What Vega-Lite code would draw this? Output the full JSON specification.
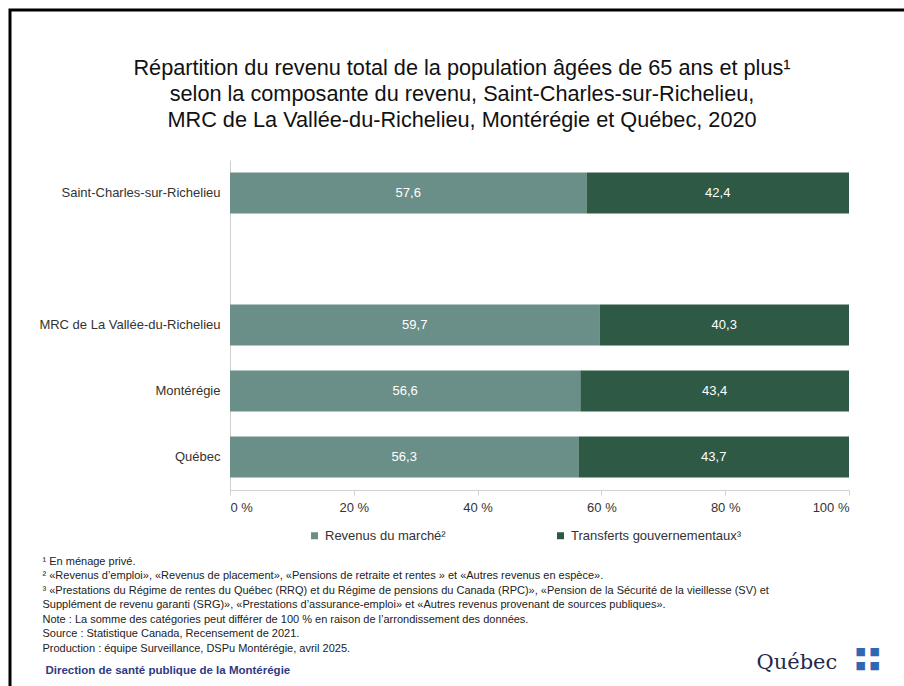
{
  "$schema": "https://vega.github.io/schema/vega-lite/v6.json",
  "autosize": {"type": "none"},
  "width": 894,
  "height": 676,
  "padding": {"left": 10, "top": 10, "right": 0, "bottom": 0},
  "background": "#ffffff",
  "config": {
    "view": {"stroke": "#000000", "strokeWidth": 3, "strokeDash": [894, 1570, 676]},
    "font": "Liberation Sans",
    "locale": {"number": {"decimal": ",", "thousands": " ", "grouping": [3], "currency": ["", " $"]}}
  },
  "title": {
    "text": [
      "Répartition du revenu total de la population âgées de 65 ans et plus¹",
      "selon la composante du revenu, Saint-Charles-sur-Richelieu,",
      "MRC de La Vallée-du-Richelieu, Montérégie et Québec, 2020"
    ],
    "font": "Liberation Sans",
    "fontSize": 21.7,
    "fontWeight": "normal",
    "color": "#111111",
    "lineHeight": 26,
    "anchor": "middle",
    "frame": "group",
    "offset": -122,
    "dx": 5
  },
  "data": {
    "values": [
      {"region": "Saint-Charles-sur-Richelieu", "component": "Revenus du marché²", "value": 57.6},
      {"region": "Saint-Charles-sur-Richelieu", "component": "Transferts gouvernementaux³", "value": 42.4},
      {"region": "MRC de La Vallée-du-Richelieu", "component": "Revenus du marché²", "value": 59.7},
      {"region": "MRC de La Vallée-du-Richelieu", "component": "Transferts gouvernementaux³", "value": 40.3},
      {"region": "Montérégie", "component": "Revenus du marché²", "value": 56.6},
      {"region": "Montérégie", "component": "Transferts gouvernementaux³", "value": 43.4},
      {"region": "Québec", "component": "Revenus du marché²", "value": 56.3},
      {"region": "Québec", "component": "Transferts gouvernementaux³", "value": 43.7}
    ]
  },
  "transform": [
    {"stack": "value", "groupby": ["region"], "sort": [{"field": "component", "order": "ascending"}], "as": ["v0", "v1"]}
  ],
  "resolve": {"axis": {"x": "independent", "y": "independent"}},
  "layer": [
    {
      "mark": {"type": "bar"},
      "encoding": {
        "y": {
          "field": "region",
          "type": "nominal",
          "scale": {
            "domain": ["Saint-Charles-sur-Richelieu", " ", "MRC de La Vallée-du-Richelieu", "Montérégie", "Québec"],
            "range": [150, 480],
            "paddingInner": 0.38,
            "paddingOuter": 0.19
          },
          "axis": {
            "orient": "left",
            "offset": -220,
            "ticks": false,
            "domainColor": "#d0d0d0",
            "domainWidth": 1,
            "labelFontSize": 13,
            "labelColor": "#333333",
            "labelPadding": 10,
            "labelLimit": 300,
            "grid": false,
            "title": "Direction de santé publique de la Montérégie",
            "titleAngle": 0,
            "titleX": -185,
            "titleY": 660,
            "titleAlign": "left",
            "titleBaseline": "middle",
            "titleFont": "Liberation Sans",
            "titleFontSize": 11.5,
            "titleFontWeight": "bold",
            "titleColor": "#2e3a87"
          }
        },
        "x": {
          "field": "v0",
          "type": "quantitative",
          "scale": {"domain": [0, 100], "range": [220, 839], "nice": false},
          "axis": {
            "orient": "bottom",
            "offset": -196,
            "values": [0, 20, 40, 60, 80, 100],
            "labelExpr": "datum.value + ' %'",
            "labelFontSize": 13,
            "labelColor": "#333333",
            "labelPadding": 6,
            "domainColor": "#d0d0d0",
            "tickColor": "#d0d0d0",
            "tickSize": 5,
            "grid": false,
            "title": [
              "¹ En ménage privé.",
              "² «Revenus d’emploi», «Revenus de placement», «Pensions de retraite et rentes » et «Autres revenus en espèce».",
              "³ «Prestations du Régime de rentes du Québec (RRQ) et du Régime de pensions du Canada (RPC)», «Pension de la Sécurité de la vieillesse (SV) et",
              "Supplément de revenu garanti (SRG)», «Prestations d’assurance-emploi» et «Autres revenus provenant de sources publiques».",
              "Note : La somme des catégories peut différer de 100 % en raison de l’arrondissement des données.",
              "Source : Statistique Canada, Recensement de 2021.",
              "Production : équipe Surveillance, DSPu Montérégie, avril 2025."
            ],
            "titleX": 32,
            "titleY": 65,
            "titleAlign": "left",
            "titleBaseline": "top",
            "titleFontSize": 11,
            "titleFontWeight": "normal",
            "titleColor": "#222222",
            "titleLineHeight": 14.5
          }
        },
        "x2": {"field": "v1"},
        "color": {
          "field": "component",
          "type": "nominal",
          "scale": {"domain": ["Revenus du marché²", "Transferts gouvernementaux³"], "range": ["#6a8f89", "#2e5945"]},
          "legend": {
            "orient": "none",
            "legendX": 298,
            "legendY": 519,
            "direction": "horizontal",
            "title": null,
            "symbolType": "square",
            "symbolSize": 49,
            "labelFontSize": 13,
            "labelColor": "#333333",
            "labelOffset": 4,
            "labelLimit": 400,
            "columnPadding": 108
          }
        }
      }
    },
    {
      "transform": [
        {"fold": ["v0", "v1"], "as": ["edge", "pos"]}
      ],
      "mark": {"type": "text", "color": "#ffffff", "fontSize": 13, "align": "center", "baseline": "middle"},
      "encoding": {
        "y": {
          "field": "region",
          "type": "nominal",
          "axis": {
            "orient": "right",
            "labels": false,
            "ticks": false,
            "domain": false,
            "grid": false,
            "title": "Québec",
            "titleAngle": 0,
            "titleX": -148,
            "titleY": 658,
            "titleAlign": "left",
            "titleBaseline": "alphabetic",
            "titleFont": "DejaVu Serif",
            "titleFontSize": 21,
            "titleFontWeight": "normal",
            "titleColor": "#1f2a4d"
          }
        },
        "x": {
          "aggregate": "mean",
          "field": "pos",
          "type": "quantitative",
          "axis": {
            "orient": "top",
            "labels": false,
            "ticks": false,
            "domain": false,
            "grid": false,
            "title": ["■ ■", "■ ■"],
            "titleX": 845,
            "titleY": 635,
            "titleAlign": "left",
            "titleBaseline": "top",
            "titleFont": "DejaVu Sans",
            "titleFontSize": 11,
            "titleFontWeight": "normal",
            "titleLineHeight": 14,
            "titleColor": "#2f67b1"
          }
        },
        "detail": {"field": "component", "type": "nominal"},
        "text": {"aggregate": "max", "field": "value", "type": "quantitative", "format": ".1f"}
      }
    }
  ]
}
